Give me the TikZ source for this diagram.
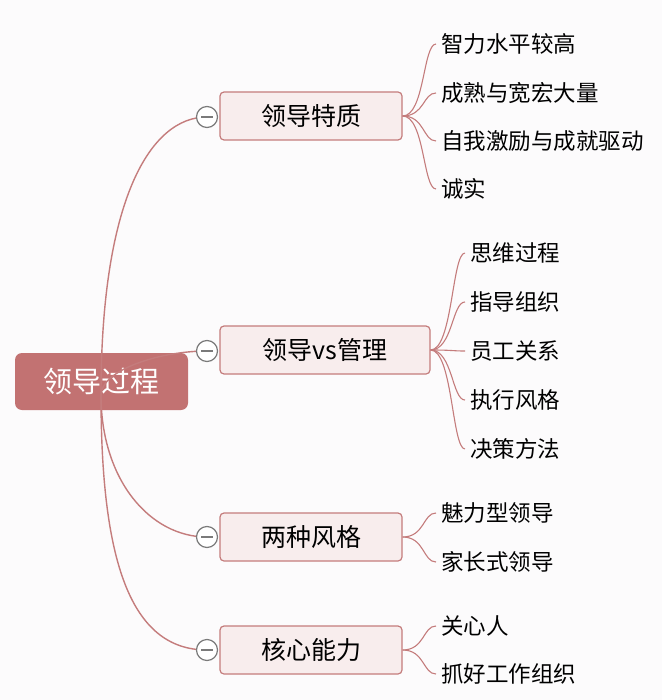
\documentclass[tikz,border=0pt]{standalone}
\usepackage{fontspec}
\setmainfont{Noto Sans CJK SC}
\definecolor{bg}{HTML}{FCFBFC}
\definecolor{rootc}{HTML}{C27272}
\definecolor{linec}{HTML}{C47C7C}
\definecolor{boxf}{HTML}{F8EDED}
\definecolor{circ}{HTML}{7A7A7A}
\begin{document}
\begin{tikzpicture}[x=1pt,y=-1pt,
  rootbox/.style={fill=rootc,rounded corners=7pt,text=white,font=\fontsize{29}{32}\selectfont},
  branch/.style={draw=linec,fill=boxf,rounded corners=4pt,line width=1.2pt,font=\fontsize{25}{28}\selectfont,inner sep=0pt},
  leaf/.style={anchor=west,inner sep=0pt,font=\fontsize{22.5}{26}\selectfont},
  conn/.style={draw=linec,line width=1.4pt},
  coll/.style={circle,draw=circ,fill=white,line width=1.2pt,minimum size=21pt,inner sep=0pt}]
\fill[bg] (0,0) rectangle (662,700);
\useasboundingbox (0,0) rectangle (662,700);
\node[rootbox,minimum width=173pt,minimum height=57pt] (root) at (101.5,381.5) {领导过程};
\node[branch,minimum width=182pt,minimum height=48pt] (b1) at (311,116) {领导特质};
\node[branch,minimum width=210pt,minimum height=48pt] (b2) at (325,350) {领导vs管理};
\node[branch,minimum width=182pt,minimum height=48pt] (b3) at (311,537) {两种风格};
\node[branch,minimum width=182pt,minimum height=48pt] (b4) at (311,650) {核心能力};
\foreach \b/\y in {b1/117,b2/351,b3/537,b4/650}{
  \coordinate (c\b) at (207,\y);
}
\coordinate (rs) at (101,395);
\draw[conn] (rs) .. controls (101,200) and (150,117) .. (cb1);
\draw[conn] (rs) .. controls (101,370) and (160,351) .. (cb2);
\draw[conn] (rs) .. controls (101,480) and (150,537) .. (cb3);
\draw[conn] (rs) .. controls (101,560) and (130,650) .. (cb4);
\foreach \b in {b1,b2,b3,b4}{
  \node[coll] (k\b) at (c\b) {};
  \draw[circ,line width=1.2pt] ([xshift=-6pt]k\b.center) -- ([xshift=6pt]k\b.center);
}
% leaves
\node[leaf] (l11) at (441,44) {智力水平较高};
\node[leaf] (l12) at (441,93) {成熟与宽宏大量};
\node[leaf] (l13) at (441,141) {自我激励与成就驱动};
\node[leaf] (l14) at (441,189) {诚实};
\node[leaf] (l21) at (470,253) {思维过程};
\node[leaf] (l22) at (470,302) {指导组织};
\node[leaf] (l23) at (470,351) {员工关系};
\node[leaf] (l24) at (470,400) {执行风格};
\node[leaf] (l25) at (470,449) {决策方法};
\node[leaf] (l31) at (441,513) {魅力型领导};
\node[leaf] (l32) at (441,562) {家长式领导};
\node[leaf] (l41) at (441,626) {关心人};
\node[leaf] (l42) at (441,674) {抓好工作组织};
\foreach \l in {l11,l12,l13,l14}{
  \draw[conn,line width=1.1pt] (b1.east) .. controls +(22,0) and ([xshift=-18pt]\l.west) .. ([xshift=-5pt]\l.west);}
\foreach \l in {l21,l22,l23,l24,l25}{
  \draw[conn,line width=1.1pt] (b2.east) .. controls +(22,0) and ([xshift=-18pt]\l.west) .. ([xshift=-5pt]\l.west);}
\foreach \l in {l31,l32}{
  \draw[conn,line width=1.1pt] (b3.east) .. controls +(22,0) and ([xshift=-18pt]\l.west) .. ([xshift=-5pt]\l.west);}
\foreach \l in {l41,l42}{
  \draw[conn,line width=1.1pt] (b4.east) .. controls +(22,0) and ([xshift=-18pt]\l.west) .. ([xshift=-5pt]\l.west);}
\end{tikzpicture}
\end{document}
